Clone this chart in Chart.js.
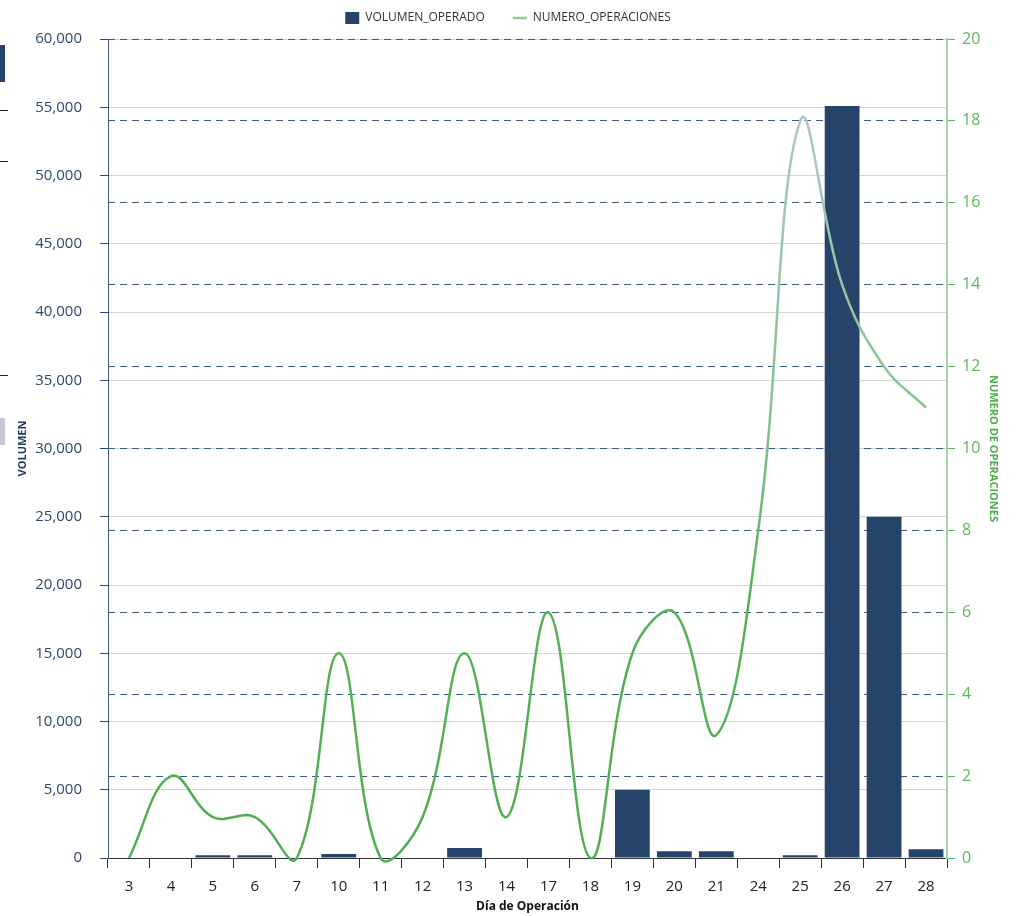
<!DOCTYPE html>
<html>
<head>
<meta charset="utf-8">
<script src="https://cdn.jsdelivr.net/npm/chart.js@4/dist/chart.umd.min.js"></script>
<style>
    body { margin: 0; background: #fff; }
    #wrap { position: relative; width: 1019px; height: 916px; }
    .deco { position: absolute; left: 0; }
</style>
</head>
<body>
<div id="wrap">
    <div class="deco" style="top:45px;width:5px;height:37px;background:#26446a;"></div>
    <div class="deco" style="top:110px;width:8px;height:1px;background:#222;"></div>
    <div class="deco" style="top:161px;width:8px;height:1px;background:#222;"></div>
    <div class="deco" style="top:375px;width:8px;height:1px;background:#222;"></div>
    <div class="deco" style="top:418px;width:5px;height:27px;background:#c4c8d4;"></div>
    <canvas id="myChart"></canvas>
</div>
<script>
// categories (day of operation)
const dias = ['3', '4', '5', '6', '7', '10', '11', '12', '13', '14', '17', '18', '19', '20', '21', '24', '25', '26', '27', '28'];
// traded volume per day
const volumenOperado = [0, 0, 200, 200, 0, 300, 0, 0, 730, 0, 0, 0, 5000, 500, 500, 0, 200, 55100, 25000, 650];
// number of operations per day
const numeroOperaciones = [0, 2, 1, 1, 0, 5, 0, 1, 5, 1, 6, 0, 5, 6, 3, 8, 18, 14, 12, 11];

const FONT = "'Open Sans', 'Noto Sans', sans-serif";
const AZUL = '#26446a';
const VERDE = '#55b155';

function lineaColor(context)
{
    const area = context.chart.chartArea;
    if (!area)
    {
        return VERDE;
    }
    const g = context.chart.ctx.createLinearGradient(0, area.bottom, 0, area.top);
    g.addColorStop(0, '#4fae4f');
    g.addColorStop(0.32, '#56b156');
    g.addColorStop(0.55, '#86c38f');
    g.addColorStop(0.9, '#aac8c6');
    g.addColorStop(1, '#b2cace');
    return g;
}

// leave a little room under the legend so it sits higher above the plot
const legendGap = {
    id: 'legendGap',
    beforeLayout(chart)
    {
        if (chart.legend && !chart.legend._gapPatched)
        {
            const fit = chart.legend.fit;
            chart.legend.fit = function ()
            {
                fit.call(this);
                this.height += 5;
            };
            chart.legend._gapPatched = true;
        }
    }
};

const chartContext = document.getElementById('myChart').getContext('2d');
new Chart(chartContext, {
    data: {
        labels: dias,
        datasets: [
            {
                type: 'line',
                label: 'NUMERO_OPERACIONES',
                data: numeroOperaciones,
                yAxisID: 'y1',
                borderColor: lineaColor,
                borderWidth: 2.5,
                tension: 0.4,
                capBezierPoints: false,
                pointRadius: 0,
                fill: false,
                clip: false,
                order: 0,
            },
            {
                type: 'bar',
                label: 'VOLUMEN_OPERADO',
                data: volumenOperado,
                yAxisID: 'y',
                backgroundColor: AZUL,
                borderWidth: 0,
                barPercentage: 0.83,
                categoryPercentage: 1,
                order: 1,
            },
        ]
    },
    plugins: [legendGap],
    options: {
        responsive: true,
        maintainAspectRatio: false,
        animation: false,
        layout: {
            padding: {
                top: 2,
                bottom: 0,
                left: 12,
                right: 15
            },
        },
        plugins: {
            legend: {
                position: 'top',
                reverse: true,
                labels: {
                    usePointStyle: true,
                    pointStyleWidth: 14,
                    padding: 10,
                    color: '#333',
                    font: { family: FONT, size: 12 },
                    generateLabels: function (chart)
                    {
                        const items = Chart.defaults.plugins.legend.labels.generateLabels(chart);
                        items.forEach(it =>
                        {
                            if (it.datasetIndex === 0)
                            {
                                it.pointStyle = 'line';
                                it.strokeStyle = '#8fcc92';
                                it.lineWidth = 2.5;
                            }
                            else
                            {
                                it.pointStyle = 'rect';
                                it.fillStyle = AZUL;
                                it.strokeStyle = AZUL;
                                it.lineWidth = 0;
                                it.text = it.text + '\u2003\u2002';
                            }
                        });
                        return items;
                    }
                }
            },
            tooltip: {
                enabled: false
            },
        },
        scales: {
            x: {
                type: 'category',
                afterFit: function (scale)
                {
                    scale.height = 58;
                },
                grid: {
                    drawOnChartArea: false,
                    drawTicks: true,
                    tickLength: 10,
                    tickColor: '#333',
                },
                border: { color: '#333' },
                ticks: {
                    color: '#222',
                    padding: 10,
                    font: { family: FONT, size: 15 },
                },
                title: {
                    display: true,
                    text: 'Día de Operación',
                    color: '#111',
                    font: { family: FONT, size: 12, weight: 'bold' },
                    padding: { top: 2, bottom: 2 },
                },
            },
            y: {
                type: 'linear',
                position: 'left',
                min: 0,
                max: 60000,
                afterFit: function (scale)
                {
                    scale.width = 96;
                },
                grid: {
                    color: '#d4d4d4',
                    tickColor: '#2c4a6e',
                    tickLength: 8,
                },
                border: { color: '#3d5a80' },
                ticks: {
                    stepSize: 5000,
                    padding: 18,
                    color: '#2c4a6e',
                    font: { family: FONT, size: 15 },
                    callback: function (value)
                    {
                        return value.toLocaleString('en-US');
                    }
                },
                title: {
                    display: true,
                    text: 'VOLUMEN',
                    color: '#1f3a5f',
                    font: { family: FONT, size: 11, weight: 'bold' },
                    padding: { top: 4, bottom: 4 },
                },
            },
            y1: {
                type: 'linear',
                position: 'right',
                min: 0,
                max: 20,
                afterFit: function (scale)
                {
                    scale.width = 57;
                },
                grid: {
                    color: '#3d5a80',
                    tickColor: '#5cb85c',
                    tickLength: 8,
                },
                border: { color: '#a5d6a5', width: 2, dash: [7, 5] },
                ticks: {
                    stepSize: 2,
                    padding: 7,
                    color: '#5cb85c',
                    font: { family: FONT, size: 16 },
                },
                title: {
                    display: true,
                    text: 'NUMERO DE OPERACIONES',
                    color: '#4cae4c',
                    font: { family: FONT, size: 11, weight: 'bold' },
                    padding: { top: 4, bottom: 4 },
                },
            }
        }
    }
});
</script>
</body>
</html>
